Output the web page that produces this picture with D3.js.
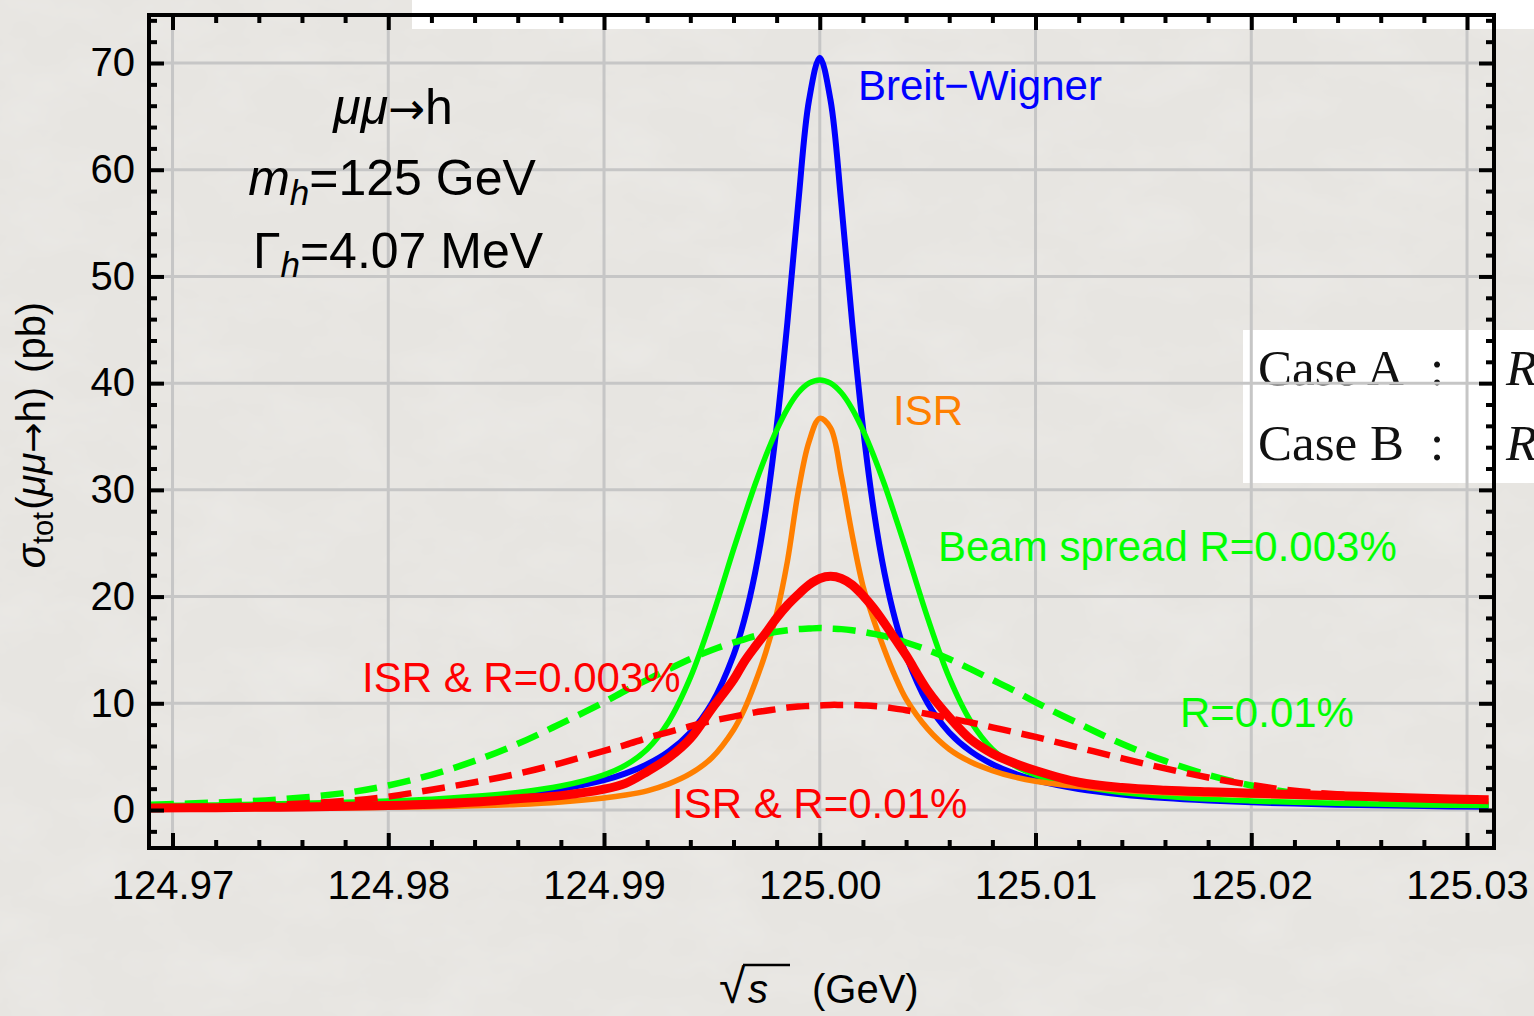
<!DOCTYPE html>
<html><head><meta charset="utf-8">
<script src="https://cdn.jsdelivr.net/npm/d3@7"></script>
<style>
html,body{margin:0;padding:0;background:#e7e5e1;}
svg{display:block}
</style>
</head><body>
<svg id="chart" width="1534" height="1016"></svg>
<script>
// ---- data ----
const sqrtS = [124.969,124.972,124.975,124.978,124.980,124.982,124.984,124.986,124.988,124.990,124.991,124.992,124.993,124.994,124.995,124.996,124.9965,124.997,124.9975,124.998,124.9985,124.999,124.9995,
  125.000,
  125.0005,125.001,125.0015,125.002,125.0025,125.003,125.0035,125.004,125.005,125.006,125.007,125.008,125.009,125.010,125.012,125.014,125.016,125.018,125.020,125.022,125.025,125.028,125.031];

const breitWigner = [0.30,0.37,0.46,0.60,0.72,0.89,1.12,1.46,1.97,2.80,3.43,4.29,5.49,7.27,10.0,14.5,17.8,22.2,28.1,35.9,45.7,56.8,66.5,
  70.5,
  66.5,56.8,45.7,35.9,28.1,22.2,17.8,14.5,10.0,7.27,5.49,4.29,3.43,2.80,1.97,1.46,1.12,0.89,0.72,0.60,0.46,0.37,0.30];

const isr = [0.10,0.13,0.16,0.21,0.25,0.31,0.39,0.52,0.75,1.12,1.40,1.80,2.45,3.40,4.90,7.50,9.40,11.9,14.8,18.4,23.3,29.8,34.5,
  36.7,
  35.8,31.3,25.8,21.0,17.8,15.0,12.5,10.4,7.6,5.7,4.5,3.7,3.1,2.7,2.2,1.85,1.62,1.48,1.38,1.28,1.13,0.98,0.85];

const beamA = [0.42,0.48,0.58,0.72,0.85,1.02,1.28,1.65,2.25,3.3,4.2,5.7,8.3,12.4,18.0,24.4,27.5,30.5,33.2,35.6,37.6,39.1,40.0,
  40.3,
  40.0,39.1,37.6,35.6,33.2,30.5,27.5,24.4,18.0,12.4,8.3,5.7,4.2,3.3,2.25,1.65,1.28,1.02,0.85,0.72,0.58,0.48,0.42];

const isrBeamA = [0.18,0.22,0.27,0.35,0.43,0.55,0.75,1.05,1.35,1.95,2.5,3.6,4.9,6.7,9.5,12.2,13.9,15.3,16.6,18.0,19.2,20.2,21.1,
  21.7,
  21.9,21.7,21.1,20.1,18.9,17.5,16.0,14.5,11.2,8.7,6.6,5.3,4.4,3.7,2.6,2.1,1.85,1.7,1.58,1.46,1.28,1.1,0.95];

const beamB = [0.5,0.7,1.0,1.6,2.3,3.3,4.6,6.2,8.1,10.1,11.2,12.2,13.2,14.15,15.0,15.7,16.0,16.3,16.5,16.7,16.85,16.95,17.0,
  17.05,
  17.0,16.95,16.85,16.7,16.5,16.3,16.0,15.7,15.0,14.15,13.2,12.2,11.2,10.1,8.1,6.2,4.6,3.3,2.3,1.6,1.0,0.7,0.5];

const isrBeamB = [0.25,0.33,0.52,0.85,1.25,1.9,2.6,3.4,4.4,5.55,6.1,6.75,7.3,7.85,8.35,8.75,8.95,9.15,9.3,9.45,9.6,9.7,9.75,
  9.8,
  9.85,9.85,9.85,9.8,9.75,9.65,9.5,9.35,9.0,8.6,8.2,7.75,7.3,6.85,5.85,4.85,3.9,3.05,2.35,1.8,1.35,1.05,0.85];

const xMajorTicks = [124.97,124.98,124.99,125.00,125.01,125.02,125.03];
const xTickLabels = ["124.97","124.98","124.99","125.00","125.01","125.02","125.03"];
const yMajorTicks = [0,10,20,30,40,50,60,70];
const yTickLabels = ["0","10","20","30","40","50","60","70"];

const seriesList = [
  {name:"Breit\u2212Wigner", values:breitWigner, color:"#0000ff", width:6, dash:null},
  {name:"Beam spread R=0.003%", values:beamA, color:"#00ff00", width:5.5, dash:null},
  {name:"ISR", values:isr, color:"#ff7f00", width:5.5, dash:null},
  {name:"R=0.01%", values:beamB, color:"#00ff00", width:6.5, dash:"23,11"},
  {name:"ISR & R=0.01%", values:isrBeamB, color:"#ff0000", width:6.5, dash:"23,11"},
  {name:"ISR & R=0.003%", values:isrBeamA, color:"#ff0000", width:9, dash:null}
];

// ---- layout ----
const svg = d3.select("#chart");
const L = 149, R = 1494, T = 15, B = 848;
const x = d3.scaleLinear().domain([124.96891, 125.03125]).range([L, R]);
const y = d3.scaleLinear().domain([-3.56, 74.5]).range([B, T]);

const defs = svg.append("defs");
const f = defs.append("filter").attr("id","tex").attr("x",0).attr("y",0).attr("width","100%").attr("height","100%");
f.append("feTurbulence").attr("type","fractalNoise").attr("baseFrequency","0.012 0.02").attr("numOctaves",4).attr("seed",7);
f.append("feColorMatrix").attr("type","matrix").attr("values","0 0 0 0 1  0 0 0 0 1  0 0 0 0 1  0.3 0 0 0 -0.12");
defs.append("clipPath").attr("id","plotclip").append("rect").attr("x",L).attr("y",T).attr("width",R-L).attr("height",B-T);

svg.append("rect").attr("width",1534).attr("height",1016).attr("fill","#e7e5e1");
svg.append("rect").attr("width",1534).attr("height",1016).attr("filter","url(#tex)");

// white patches of the slide
svg.append("rect").attr("x",412).attr("y",0).attr("width",1122).attr("height",29).attr("fill","#ffffff");
svg.append("rect").attr("x",1243).attr("y",330).attr("width",291).attr("height",153).attr("fill","#ffffff");
const serif = "'Liberation Serif','DejaVu Serif',serif";
[["Case A",385],["Case B",460]].forEach(([t,by])=>{
  svg.append("text").attr("x",1258).attr("y",by).attr("font-family",serif).attr("font-size",51).attr("fill","#111").text(t);
  svg.append("text").attr("x",1430).attr("y",by).attr("font-family",serif).attr("font-size",51).attr("fill","#111").text(":");
  svg.append("text").attr("x",1506).attr("y",by).attr("font-family",serif).attr("font-style","italic").attr("font-size",51).attr("fill","#111").text("R");
});

// gridlines
const grid = svg.append("g").attr("clip-path","url(#plotclip)");
grid.selectAll(".gx").data(xMajorTicks).join("line")
  .attr("x1",d=>x(d)).attr("x2",d=>x(d)).attr("y1",T).attr("y2",B)
  .attr("stroke","#c6c6c6").attr("stroke-width",3);
grid.selectAll(".gy").data(yMajorTicks).join("line")
  .attr("x1",L).attr("x2",R).attr("y1",d=>y(d)).attr("y2",d=>y(d))
  .attr("stroke","#c6c6c6").attr("stroke-width",3);

// curves
const line = d3.line().x(d=>x(d[0])).y(d=>y(d[1])).curve(d3.curveCatmullRom.alpha(0.5));
const curves = svg.append("g").attr("clip-path","url(#plotclip)");
seriesList.forEach(s=>{
  curves.append("path").datum(sqrtS.map((v,i)=>[v,s.values[i]]))
    .attr("d",line).attr("fill","none").attr("stroke",s.color)
    .attr("stroke-width",s.width).attr("stroke-linejoin","round")
    .attr("stroke-dasharray",s.dash);
});

// axes with inward ticks
const font = "'Liberation Sans',Arial,Helvetica,sans-serif";
const arrowFont = "'DejaVu Sans',sans-serif";
const xMinor = d3.range(0,31).map(i=>+(124.97+i*0.002).toFixed(3)).filter(v=>!xMajorTicks.some(m=>Math.abs(m-v)<1e-9));
const yMinor = d3.range(-2,75,2).filter(v=>v%10!==0);

function styleAxis(g){ g.select(".domain").remove(); g.selectAll(".tick line").attr("stroke","#000").attr("stroke-width",4); }

svg.append("g").attr("transform",`translate(0,${B})`)
  .call(d3.axisBottom(x).tickValues(xMajorTicks).tickSize(-15).tickPadding(23).tickFormat((d,i)=>xTickLabels[i]))
  .call(styleAxis)
  .call(g=>g.selectAll("text").attr("font-family",font).attr("font-size",40).attr("fill","#000"));
svg.append("g").attr("transform",`translate(0,${B})`)
  .call(d3.axisBottom(x).tickValues(xMinor).tickSize(-8).tickFormat(""))
  .call(styleAxis);
svg.append("g").attr("transform",`translate(0,${T})`)
  .call(d3.axisTop(x).tickValues(xMajorTicks).tickSize(-15).tickFormat(""))
  .call(styleAxis);
svg.append("g").attr("transform",`translate(0,${T})`)
  .call(d3.axisTop(x).tickValues(xMinor).tickSize(-8).tickFormat(""))
  .call(styleAxis);
svg.append("g").attr("transform",`translate(${L},0)`)
  .call(d3.axisLeft(y).tickValues(yMajorTicks).tickSize(-15).tickPadding(14).tickFormat((d,i)=>yTickLabels[i]))
  .call(styleAxis)
  .call(g=>g.selectAll("text").attr("font-family",font).attr("font-size",40).attr("fill","#000"));
svg.append("g").attr("transform",`translate(${L},0)`)
  .call(d3.axisLeft(y).tickValues(yMinor).tickSize(-8).tickFormat(""))
  .call(styleAxis);
svg.append("g").attr("transform",`translate(${R},0)`)
  .call(d3.axisRight(y).tickValues(yMajorTicks).tickSize(-15).tickFormat(""))
  .call(styleAxis);
svg.append("g").attr("transform",`translate(${R},0)`)
  .call(d3.axisRight(y).tickValues(yMinor).tickSize(-8).tickFormat(""))
  .call(styleAxis);

svg.append("rect").attr("x",L).attr("y",T).attr("width",R-L).attr("height",B-T)
  .attr("fill","none").attr("stroke","#000").attr("stroke-width",4);

// curve labels
const labels = [
  {t:"Breit\u2212Wigner", c:"#0000ff", x:858, y:100},
  {t:"ISR", c:"#ff7f00", x:893, y:425},
  {t:"Beam spread R=0.003%", c:"#00ff00", x:938, y:561},
  {t:"ISR & R=0.003%", c:"#ff0000", x:362, y:692},
  {t:"R=0.01%", c:"#00ff00", x:1180, y:727},
  {t:"ISR & R=0.01%", c:"#ff0000", x:672, y:818}
];
labels.forEach(l=>svg.append("text").attr("x",l.x).attr("y",l.y).attr("font-family",font)
  .attr("font-size",42).attr("fill",l.c).text(l.t));

// info block
const info = svg.append("g").attr("font-family",font).attr("font-size",50).attr("fill","#000").attr("text-anchor","middle");
const t1 = info.append("text").attr("x",393).attr("y",124);
t1.append("tspan").attr("font-style","italic").text("\u03bc\u03bc");
t1.append("tspan").attr("font-family",arrowFont).attr("font-size",44).text("\u2192");
t1.append("tspan").text("h");
const t2 = info.append("text").attr("x",392).attr("y",195);
t2.append("tspan").attr("font-style","italic").text("m");
t2.append("tspan").attr("font-style","italic").attr("font-size",35).attr("dy",10).text("h");
t2.append("tspan").attr("dy",-10).text("=125 GeV");
const t3 = info.append("text").attr("x",398).attr("y",268);
t3.append("tspan").text("\u0393");
t3.append("tspan").attr("font-style","italic").attr("font-size",35).attr("dy",9).text("h");
t3.append("tspan").attr("dy",-9).text("=4.07 MeV");

// y axis title
const yt = svg.append("text").attr("transform","translate(45,435) rotate(-90)")
  .attr("font-family",font).attr("font-size",40).attr("fill","#000").attr("text-anchor","middle");
yt.append("tspan").attr("font-style","italic").text("\u03c3");
yt.append("tspan").attr("font-size",29).attr("dy",8).text("tot");
yt.append("tspan").attr("dy",-8).attr("dx",2).text("(");
yt.append("tspan").attr("font-style","italic").text("\u03bc\u03bc");
yt.append("tspan").attr("font-family",arrowFont).attr("font-size",36).text("\u2192");
yt.append("tspan").text("h)");
yt.append("tspan").attr("dx",14).text("(pb)");

// x axis title
const xt = svg.append("g").attr("font-family",font).attr("fill","#000");
const rad = xt.append("text").attr("x",719).attr("y",1003).attr("font-size",48).text("\u221a");
xt.append("text").attr("x",748).attr("y",1003).attr("font-size",40).attr("font-style","italic").text("s");
xt.append("text").attr("x",812).attr("y",1003).attr("font-size",40).text("(GeV)");
const rb = rad.node().getBBox();
xt.append("line").attr("x1",rb.x+rb.width-3).attr("x2",790).attr("y1",rb.y+5).attr("y2",rb.y+5)
  .attr("stroke","#000").attr("stroke-width",2.5);
</script>
</body></html>
